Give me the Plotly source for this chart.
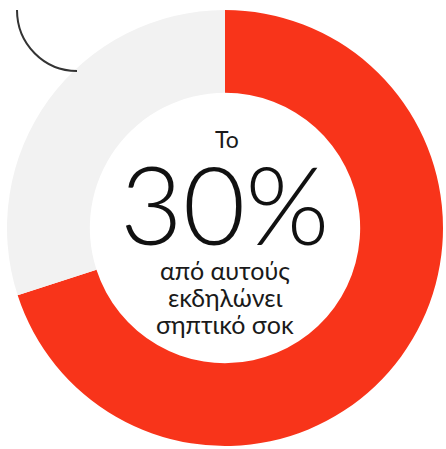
import plotly.graph_objects as go

W, H = 446, 449

labels = ["εκδηλώνει σηπτικό σοκ", "υπόλοιποι"]
values = [70, 30]
colors = ["#f8341a", "#f2f2f2"]

headline_small = "Το"
headline_big = "30%"
caption_lines = ["από αυτούς", "εκδηλώνει", "σηπτικό σοκ"]

def px(x):
    return x / W

def py(y):
    return 1 - y / H

fig = go.Figure()
fig.add_trace(go.Pie(
    labels=labels,
    values=values,
    marker=dict(colors=colors, line=dict(width=0)),
    hole=0.62,
    sort=False,
    direction="clockwise",
    rotation=0,
    textinfo="none",
    hoverinfo="skip",
    showlegend=False,
    domain=dict(x=[px(7), px(443)], y=[py(446), py(10)]),
))

def txt(x, y, s, size, color="#1a1a1a", weight=None):
    f = dict(family="Lato", size=size, color=color)
    if weight:
        f["weight"] = weight
    fig.add_annotation(x=px(x), y=py(y), xref="paper", yref="paper",
                       xanchor="center", yanchor="middle",
                       text=s, showarrow=False, font=f)

txt(227, 139, headline_small, 23)
txt(224, 203, headline_big, 108, "#111111", 300)
for i, line in enumerate(caption_lines):
    txt(225, 270 + i * 27, line, 25)

# decorative thin arc top-left
fig.add_shape(type="path", xref="paper", yref="paper",
              path=f"M {px(17)} {py(10)} C {px(17)} {py(44)}, {px(44)} {py(71)}, {px(77)} {py(71)}",
              line=dict(color="#333333", width=2))

fig.update_layout(
    width=W, height=H,
    margin=dict(l=0, r=0, t=0, b=0),
    paper_bgcolor="white",
    plot_bgcolor="white",
)
fig.write_html("out.html", config={"displayModeBar": False},
               post_script="document.body.style.margin='0';document.body.style.overflow='hidden';")
